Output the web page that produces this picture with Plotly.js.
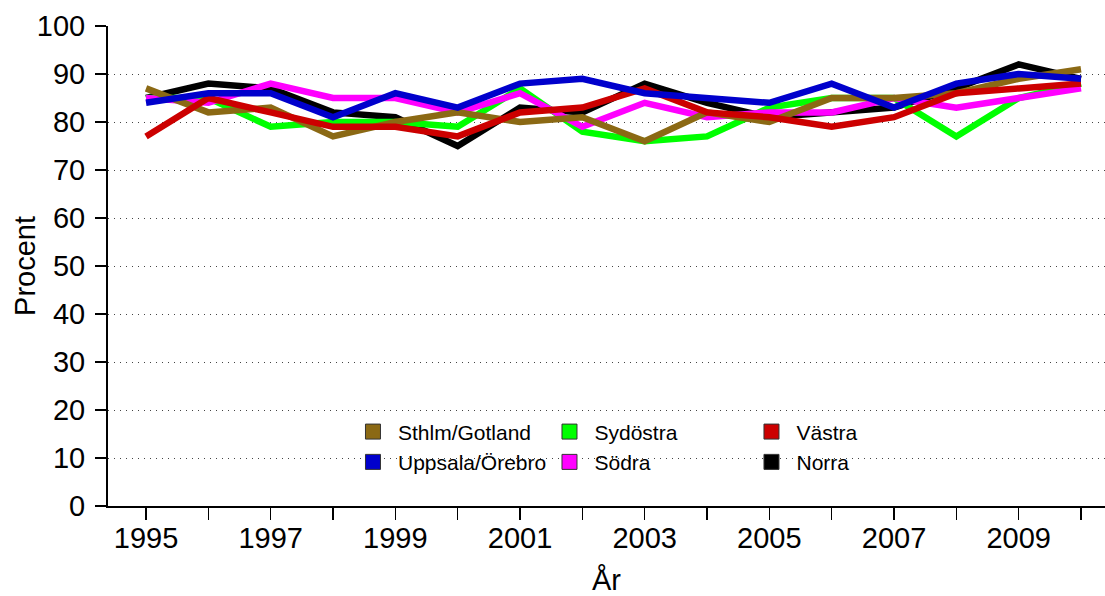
<!DOCTYPE html>
<html>
<head>
<meta charset="utf-8">
<script src="https://cdn.plot.ly/plotly-3.0.1.min.js"></script>
<style>
  html, body { margin: 0; padding: 0; background: #fff; }
  #chart { width: 1105px; height: 596px; }
</style>
</head>
<body>
<div id="chart"></div>
<script>
const years = [1995, 1996, 1997, 1998, 1999, 2000, 2001, 2002, 2003, 2004, 2005, 2006, 2007, 2008, 2009, 2010];
const yearLabels = ['1995', '', '1997', '', '1999', '', '2001', '', '2003', '', '2005', '', '2007', '', '2009', ''];

const sthlmGotland = [87, 82, 83, 77, 80, 82, 80, 81, 76, 82, 80, 85, 85, 86, 89, 91];
const uppsalaOrebro = [84, 86, 86, 81, 86, 83, 88, 89, 86, 85, 84, 88, 83, 88, 90, 89];
const sydostra = [85, 85, 79, 80, 80, 79, 87, 78, 76, 77, 83, 85, 85, 77, 85, 88];
const sodra = [85, 84, 88, 85, 85, 82, 86, 79, 84, 81, 82, 82, 85, 83, 85, 87];
const vastra = [77, 85, 82, 79, 79, 77, 82, 83, 87, 82, 81, 79, 81, 86, 87, 88];
const norra = [85, 88, 87, 82, 81, 75, 83, 82, 88, 84, 81, 82, 83, 87, 92, 89];

// legend column, row in column, and draw order (bottom to top)
const series = [
    {name: 'Sthlm/Gotland', y: sthlmGotland, color: '#8B6914', legend: 'legend', rank: 1, z: 3},
    {name: 'Uppsala/Örebro', y: uppsalaOrebro, color: '#0000CC', legend: 'legend', rank: 2, z: 5},
    {name: 'Sydöstra', y: sydostra, color: '#00FF00', legend: 'legend2', rank: 1, z: 1},
    {name: 'Södra', y: sodra, color: '#FF00FF', legend: 'legend2', rank: 2, z: 2},
    {name: 'Västra', y: vastra, color: '#CC0000', legend: 'legend3', rank: 1, z: 4},
    {name: 'Norra', y: norra, color: '#000000', legend: 'legend3', rank: 2, z: 0}
];

const lines = series.slice().sort((a, b) => a.z - b.z).map(s => ({
    x: years,
    y: s.y,
    type: 'scatter',
    mode: 'lines',
    line: {color: s.color, width: 6.5},
    showlegend: false,
    hoverinfo: 'skip'
}));

const keys = series.map(s => ({
    x: [null],
    y: [null],
    type: 'scatter',
    mode: 'markers',
    name: s.name,
    legend: s.legend,
    legendrank: s.rank,
    marker: {symbol: 'square', size: 15, color: s.color, line: {color: '#333', width: 1}}
}));

const tickFont = {family: 'Liberation Sans, Arial, sans-serif', size: 29, color: '#000'};

function legendAt(x) {
    return {
        x: x,
        xanchor: 'left',
        y: 0.197,
        yanchor: 'top',
        itemwidth: 40,
        font: {size: 21, color: '#000'},
        bgcolor: 'rgba(0,0,0,0)',
        tracegroupgap: 0
    };
}

const layout = {
    width: 1105,
    height: 596,
    paper_bgcolor: '#fff',
    plot_bgcolor: '#fff',
    margin: {l: 108, r: 0, t: 26, b: 90},
    font: {family: 'Liberation Sans, Arial, sans-serif', color: '#000'},
    xaxis: {
        range: [1994.39, 2010.385],
        tickvals: years,
        ticktext: yearLabels,
        ticks: 'outside',
        ticklen: 12,
        tickwidth: 1.5,
        tickcolor: '#000',
        tickfont: tickFont,
        ticklabelstandoff: -7,
        showline: true,
        linecolor: '#000',
        linewidth: 2,
        showgrid: false,
        zeroline: false,
        title: {text: 'År', font: {size: 29}, standoff: 34}
    },
    yaxis: {
        range: [0, 100],
        dtick: 10,
        ticks: 'outside',
        ticklen: 11,
        tickwidth: 1.5,
        tickcolor: '#000',
        tickfont: tickFont,
        ticklabelstandoff: 4,
        showline: true,
        linecolor: '#000',
        linewidth: 2,
        showgrid: true,
        gridcolor: '#444',
        gridwidth: 1,
        griddash: '1px,5px',
        zeroline: false
    },
    annotations: [{
        text: 'Procent',
        xref: 'paper',
        yref: 'paper',
        x: -0.0833,
        y: 0.5,
        xanchor: 'center',
        yanchor: 'middle',
        textangle: -90,
        showarrow: false,
        font: {size: 29, color: '#000'}
    }],
    legend: legendAt(0.2407),
    legend2: legendAt(0.4378),
    legend3: legendAt(0.6404),
    showlegend: true
};

Plotly.newPlot('chart', lines.concat(keys), layout, {displayModeBar: false, staticPlot: true});
</script>
</body>
</html>
